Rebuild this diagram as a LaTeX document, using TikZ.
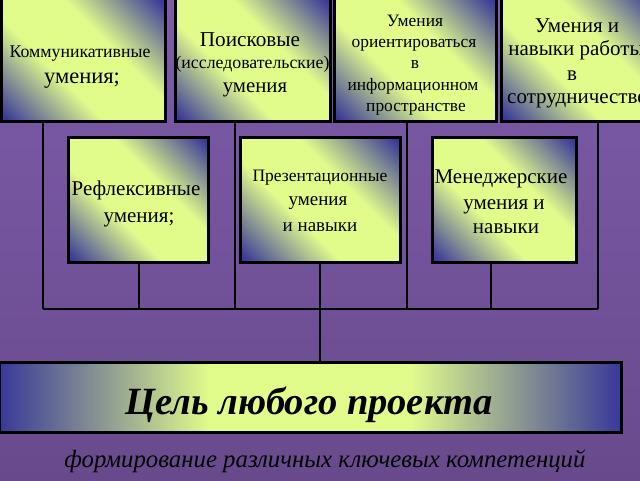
\documentclass[tikz,border=0pt]{standalone}
\usepackage{fontspec}
\setmainfont{Liberation Serif}
\definecolor{sblue}{RGB}{56,56,152}
\definecolor{syel}{RGB}{226,252,140}
\definecolor{bgtop}{RGB}{126,92,170}
\definecolor{bgbot}{RGB}{104,74,140}
\pgfdeclarehorizontalshading{boxsh}{100bp}{color(0bp)=(sblue); color(16bp)=(sblue); color(40bp)=(syel); color(60bp)=(syel); color(84bp)=(sblue); color(100bp)=(sblue)}
\pgfdeclarehorizontalshading{longsh}{100bp}{color(0bp)=(sblue); color(25bp)=(sblue); color(42bp)=(syel); color(58bp)=(syel); color(75bp)=(sblue); color(100bp)=(sblue)}
\newcommand{\fs}[1]{\fontsize{#1}{#1}\selectfont}
\tikzset{
  box/.style={draw=black, line width=3pt, shading=boxsh, shading angle=45, inner sep=0pt},
  longbox/.style={draw=black, line width=3pt, shading=longsh, inner sep=0pt},
  conn/.style={draw=black, line width=2.5pt},
  txt/.style={anchor=base, inner sep=0pt, text=black},
}
\begin{document}
\begin{tikzpicture}[x=1pt,y=-1pt]
\useasboundingbox (0,0) rectangle (640,480);
\clip (0,0) rectangle (640,480);
\shade[top color=bgtop, bottom color=bgbot] (0,0) rectangle (640,480);

% bus coordinates
\coordinate (j1) at (43,309);
\coordinate (j2) at (235,309);
\coordinate (j3) at (407,309);
\coordinate (j4) at (598,309);
\coordinate (k1) at (139,309);
\coordinate (k2) at (320,309);
\coordinate (k3) at (491,309);

% top boxes
\node[box, minimum width=164pt, minimum height=124pt] (b1) at (83,59) {};
\node[box, minimum width=155pt, minimum height=124pt] (b2) at (252.5,59) {};
\node[box, minimum width=162pt, minimum height=124pt] (b3) at (415,59) {};
\node[box, minimum width=158pt, minimum height=124pt] (b4) at (580,59) {};

% middle boxes
\node[box, minimum width=140pt, minimum height=125pt] (m1) at (138,199.5) {};
\node[box, minimum width=160pt, minimum height=125pt] (m2) at (320,199.5) {};
\node[box, minimum width=144pt, minimum height=125pt] (m3) at (504,199.5) {};

% bottom box
\node[longbox, minimum width=622pt, minimum height=70pt] (g) at (310,397) {};

% connectors
\draw[conn] (j1 |- b1.south) -- (j1);
\draw[conn] (j2 |- b2.south) -- (j2);
\draw[conn] (j3 |- b3.south) -- (j3);
\draw[conn] (j4 |- b4.south) -- (j4);
\draw[conn] (k1 |- m1.south) -- (k1);
\draw[conn] (k2 |- m2.south) -- (k2);
\draw[conn] (k3 |- m3.south) -- (k3);
\draw[conn] (j1) -- (j4);
\draw[conn] (k2) -- (k2 |- g.north);

% texts top
\node[txt, font=\fs{17.8}] (t1a) at (80,57) {Коммуникативные};
\node[txt, font=\fs{22.5}] (t1b) at (82,83) {умения;};
\node[txt, font=\fs{21.2}] (t2a) at (250,46) {Поисковые};
\node[txt, font=\fs{17.8}] (t2b) at (252.5,68) {(исследовательские)};
\node[txt, font=\fs{20.8}] (t2c) at (255,92) {умения};
\node[txt, font=\fs{17.4}] (t3a) at (415,26) {Умения};
\node[txt, font=\fs{17.4}] (t3b) at (414,47) {ориентироваться};
\node[txt, font=\fs{17.4}] (t3c) at (415,68) {в};
\node[txt, font=\fs{17.4}] (t3d) at (413,90) {информационном};
\node[txt, font=\fs{17.4}] (t3e) at (416,111) {пространстве};
\node[txt, font=\fs{21}] (t4a) at (577,32) {Умения и};
\node[txt, font=\fs{21}] (t4b) at (576,55) {навыки работы};
\node[txt, font=\fs{21}] (t4c) at (572,80) {в};
\node[txt, font=\fs{21}] (t4d) at (577,103) {сотрудничестве};

% texts middle
\node[txt, font=\fs{21}] (u1a) at (136,195) {Рефлексивные};
\node[txt, font=\fs{21}] (u1b) at (139,222) {умения;};
\node[txt, font=\fs{17.5}] (u2a) at (320,181) {Презентационные};
\node[txt, font=\fs{19}] (u2b) at (318,205) {умения};
\node[txt, font=\fs{19}] (u2c) at (320,231) {и навыки};
\node[txt, font=\fs{21}] (u3a) at (501,183) {Менеджерские};
\node[txt, font=\fs{21}] (u3b) at (504,209) {умения и};
\node[txt, font=\fs{21}] (u3c) at (506,233) {навыки};

% bottom texts
\node[txt, font=\fs{38.5}\bfseries\itshape] (gt) at (309,414) {Цель любого проекта};
\node[txt, font=\fs{24.8}\itshape] (st) at (325,467) {формирование различных ключевых компетенций};
\end{tikzpicture}
\end{document}
